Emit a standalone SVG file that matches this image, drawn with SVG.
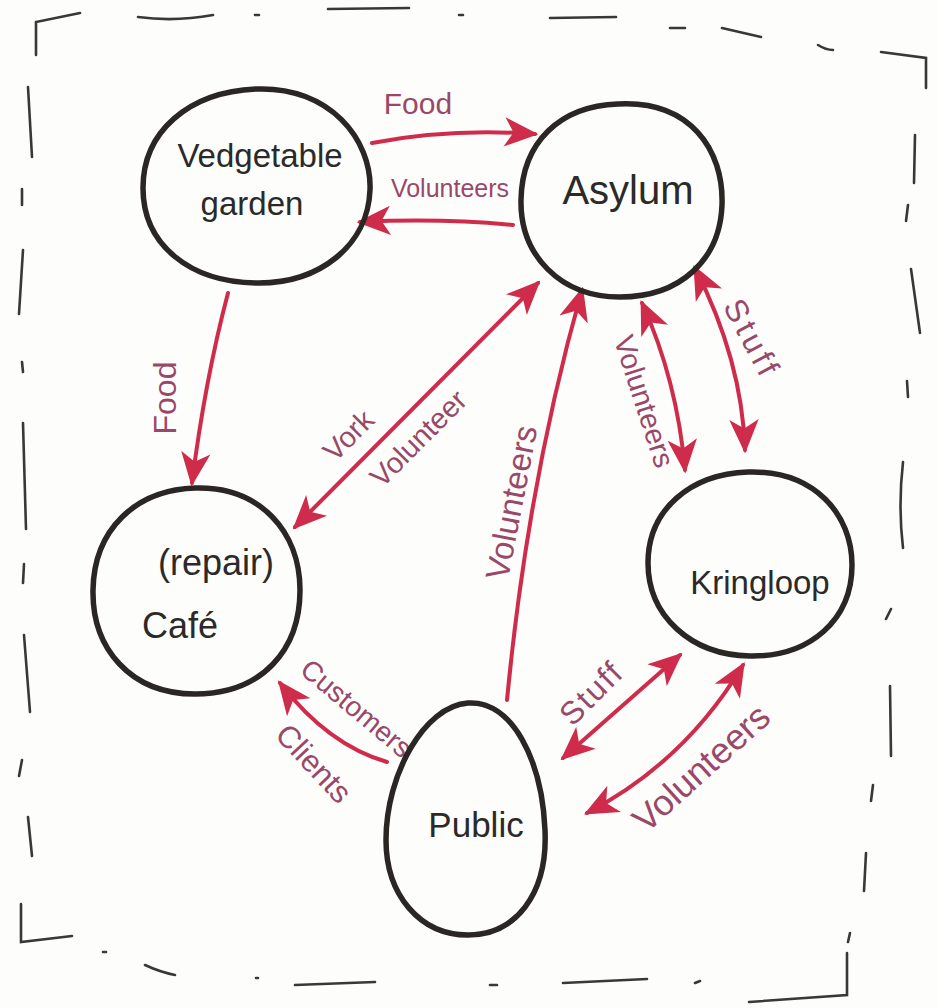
<svg xmlns="http://www.w3.org/2000/svg" width="938" height="1008" viewBox="0 0 938 1008">
<style>
.bg{fill:#fdfdfb}
.frame{fill:none;stroke:#3a3836;stroke-width:2.6;stroke-linecap:round}
.node{fill:none;stroke:#2a2624;stroke-width:5.5}
.nt{font-family:"Liberation Sans",Arial,sans-serif;fill:#2b2a29;text-anchor:middle;dominant-baseline:middle}
.con{fill:none;stroke:#cf2c4b;stroke-width:4;stroke-linecap:round}
.lbl{font-family:"Liberation Sans",Arial,sans-serif;fill:#9a4868;text-anchor:middle;dominant-baseline:middle}
</style>
<defs>
<marker id="ah" markerUnits="userSpaceOnUse" markerWidth="34" markerHeight="34" viewBox="0 0 30 30" refX="27" refY="15" orient="auto-start-reverse">
<path d="M0,2 L30,15 L0,28 L8,15 Z" fill="#cf2c4b"/>
</marker>
</defs>
<rect class="bg" x="0" y="0" width="938" height="1008"/>
<g id="frame">
<path class="frame" d="M36,55 L36,22 L80,13"/>
<path class="frame" d="M138,17 Q175,22 213,15 M255,15 L259,15 M328,9 L409,8 M459,15 L463,15 M550,18 L616,17 M670,28 L685,28 M722,28 L761,37 M818,45 Q826,50 833,50"/>
<path class="frame" d="M881,52 L926,58 L926,88"/>
<path class="frame" d="M915,135 L914,183 M908,205 L906,221 M911,269 L920,333 M907,381 L908,397 M903,462 Q898,506 903,548 M891,609 L886,619 M890,686 L891,756 M873,785 L871,801 M866,853 L864,891 M850,933 L848,942"/>
<path class="frame" d="M847,953 L847,995 L749,1002"/>
<path class="frame" d="M28,87 L32,157 M22,189 L22,205 M23,250 L19,314 M22,362 L23,372 M23,423 L26,529 M24,564 L23,583 M24,635 L30,712 M22,760 L19,776 M28,817 L32,856"/>
<path class="frame" d="M21,904 L21,942 L72,936"/>
<path class="frame" d="M103,952 L106,952 M145,965 Q160,972 175,975 M256,978 L258,978 M295,985 L375,982 M490,985 L497,985 M563,983 L647,979 M695,983 L700,981"/>
</g>
<g id="connectors">
<path class="con" d="M372,143 Q450,128 535,134" marker-end="url(#ah)"/>
<path class="con" d="M513,225 Q440,218 360,222" marker-end="url(#ah)"/>
<path class="con" d="M228,293 Q205,380 192,483" marker-end="url(#ah)"/>
<path class="con" d="M538,283 L295,527" marker-start="url(#ah)" marker-end="url(#ah)"/>
<path class="con" d="M507,700 Q528,480 582,290" marker-end="url(#ah)"/>
<path class="con" d="M642,303 Q677,380 685,470" marker-start="url(#ah)" marker-end="url(#ah)"/>
<path class="con" d="M695,268 Q742,360 745,450" marker-start="url(#ah)" marker-end="url(#ah)"/>
<path class="con" d="M387,762 Q328,745 280,683" marker-end="url(#ah)"/>
<path class="con" d="M563,758 L680,655" marker-start="url(#ah)" marker-end="url(#ah)"/>
<path class="con" d="M587,813 Q685,762 743,665" marker-start="url(#ah)" marker-end="url(#ah)"/>
<text class="lbl" x="418" y="106" font-size="30">Food</text>
<text class="lbl" x="450" y="190" font-size="25">Volunteers</text>
<text class="lbl" font-size="32" transform="translate(168,398) rotate(-90)">Food</text>
<text class="lbl" font-size="29" transform="translate(350,437) rotate(-45)">Vork</text>
<text class="lbl" font-size="29" transform="translate(420,440) rotate(-45)">Volunteer</text>
<text class="lbl" font-size="33" transform="translate(514,503) rotate(-79)">Volunteers</text>
<text class="lbl" font-size="29" transform="translate(642,402) rotate(72)">Volunteers</text>
<text class="lbl" font-size="32" letter-spacing="4" transform="translate(750,340) rotate(62)">Stuff</text>
<text class="lbl" font-size="28" transform="translate(355,710) rotate(40)">Customers</text>
<text class="lbl" font-size="31" transform="translate(312,765) rotate(47)">Clients</text>
<text class="lbl" font-size="32" letter-spacing="2" transform="translate(593,695) rotate(-45)">Stuff</text>
<text class="lbl" font-size="36" transform="translate(703,770) rotate(-42)">Volunteers</text>
</g>
<g id="node-garden">
<path class="node" d="M256,89 C330,86 372,140 370,190 C368,245 320,284 256,283 C190,282 143,245 143,188 C143,132 188,92 256,89 Z"/>
<text class="nt" x="260" y="158" font-size="33">Vedgetable</text>
<text class="nt" x="252" y="206" font-size="33">garden</text>
</g>
<g id="node-asylum">
<path class="node" d="M618,104 C690,100 724,150 722,205 C720,260 680,297 620,297 C560,297 520,255 521,200 C522,142 560,106 618,104 Z"/>
<text class="nt" x="628" y="193" font-size="40">Asylum</text>
</g>
<g id="node-cafe">
<path class="node" d="M195,488 C260,486 300,532 300,590 C300,650 262,694 195,694 C130,694 92,648 93,590 C94,530 135,490 195,488 Z"/>
<text class="nt" x="216" y="565" font-size="36">(repair)</text>
<text class="nt" x="180" y="628" font-size="36">Café</text>
</g>
<g id="node-kringloop">
<path class="node" d="M748,472 C815,470 852,515 852,565 C852,620 810,657 750,656 C690,655 648,615 648,563 C648,510 690,474 748,472 Z"/>
<text class="nt" x="760" y="585" font-size="33">Kringloop</text>
</g>
<g id="node-public">
<path class="node" d="M468,703 C512,700 542,760 545,830 C548,895 515,935 468,935 C420,935 386,895 386,840 C386,775 424,706 468,703 Z"/>
<text class="nt" x="476" y="828" font-size="35">Public</text>
</g>
</svg>
